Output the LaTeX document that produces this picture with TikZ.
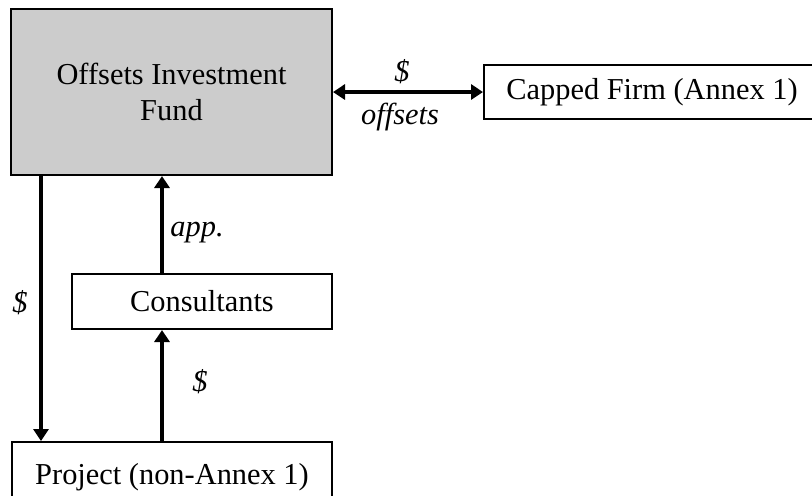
\documentclass[tikz,border=0pt]{standalone}
\usepackage{fontspec}
\setmainfont{Liberation Serif}
\usetikzlibrary{arrows.meta,positioning}
\begin{document}
\begin{tikzpicture}[x=0.5pt,y=-0.5pt,
  box/.style={draw,line width=1pt,inner sep=0pt,align=center,
    font=\fontsize{15.2}{18}\selectfont},
  flow/.style={line width=2pt,-{Triangle[length=6pt,width=7.5pt]}},
  lbl/.style={inner sep=0pt,font=\fontsize{15.2}{18}\selectfont\itshape}]
\useasboundingbox (0,0) rectangle (812,495);
\clip (0,0) rectangle (812,495);

\node[box,fill=black!20,minimum width=160.5pt,minimum height=83pt] (fund) at (171.5,92)
  {Offsets Investment\\Fund};
\node[box,minimum width=168pt,minimum height=27pt] (firm) at (652,92) {Capped Firm (Annex 1)};
\node[box,minimum width=130pt,minimum height=27.5pt] (cons) at (202,301.5) {Consultants};
\node[box,minimum width=160pt,minimum height=35pt] (proj) at (172,477) {Project (non-Annex 1)};

\draw[flow,{Triangle[length=6pt,width=7.5pt]}-{Triangle[length=6pt,width=7.5pt]}] (fund.east) -- (firm.west);
\draw[flow] ([xshift=15.5pt]fund.south west) -- ([xshift=15pt]proj.north west);
\draw[flow] ([xshift=45.5pt]cons.north west) -- ([xshift=76pt]fund.south west);
\draw[flow] ([xshift=75.5pt]proj.north west) -- ([xshift=45.5pt]cons.south west);

\node[lbl] (money1) at (402,72) {\$};
\node[lbl] (offs) at (400,117) {offsets};
\node[lbl] (app) at (197,233) {app.};
\node[lbl] (money2) at (200,382) {\$};
\node[lbl] (money3) at (20,303) {\$};
\end{tikzpicture}
\end{document}
